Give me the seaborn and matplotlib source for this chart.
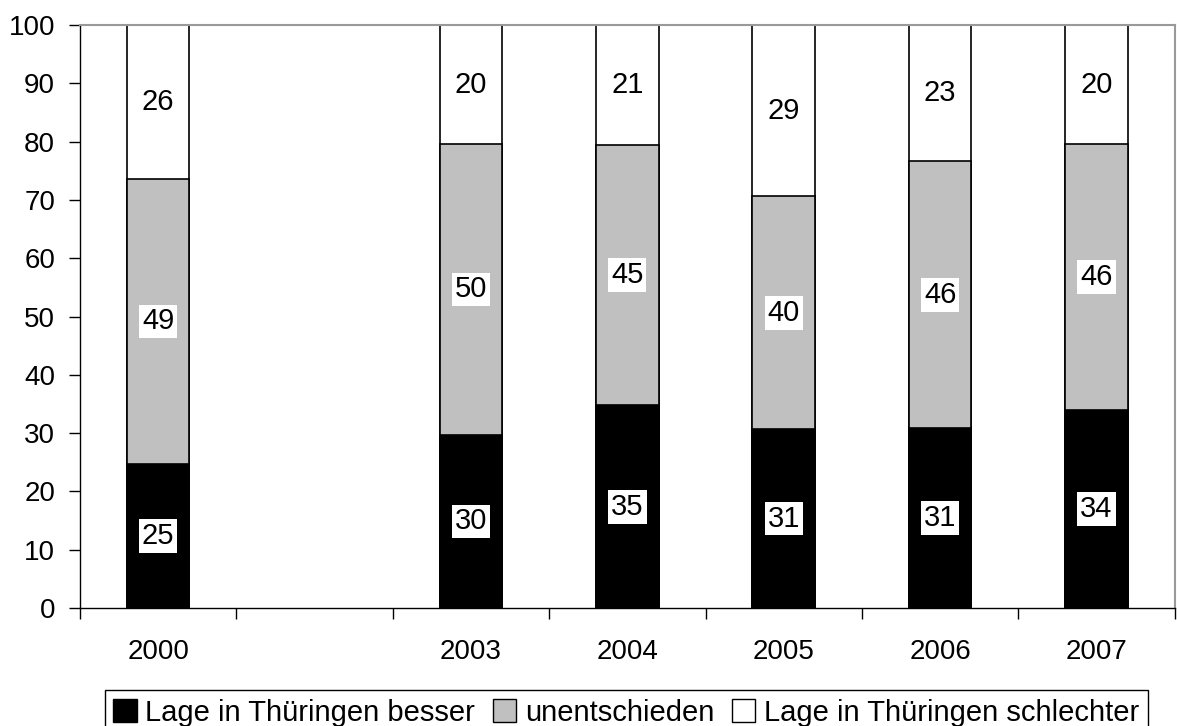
import numpy as np
import pandas as pd
import matplotlib
matplotlib.use("Agg")
import matplotlib.pyplot as plt
import seaborn as sns
from matplotlib.patches import Patch

# Daten (Anteile in %)
jahre = ["2000", "2003", "2004", "2005", "2006", "2007"]
slots = ["2000", "2001", "2003", "2004", "2005", "2006", "2007"]  # 2001 ohne Daten
besser = [24.7, 29.7, 34.8, 30.7, 30.8, 34.0]
unentschieden = [48.9, 49.9, 44.6, 39.9, 45.8, 45.6]
schlechter = [26.4, 20.4, 20.6, 29.4, 23.4, 20.4]

serien = ["Lage in Thüringen besser", "unentschieden", "Lage in Thüringen schlechter"]
farben = ["#000000", "#C0C0C0", "#FFFFFF"]

sns.set_style("white")
plt.rcParams["font.family"] = ["Liberation Sans", "DejaVu Sans"]
plt.rcParams["text.color"] = "black"
plt.rcParams["xtick.color"] = "black"
plt.rcParams["ytick.color"] = "black"

df = pd.DataFrame({"jahr": jahre, "besser": besser,
                   "unentschieden": unentschieden, "schlechter": schlechter})
df["s1"] = df["besser"]
df["s2"] = df["besser"] + df["unentschieden"]
df["s3"] = df["s2"] + df["schlechter"]

fig = plt.figure(figsize=(11.77, 7.26), dpi=100)
ax = fig.add_axes([0.068, 0.1625, 0.93, 0.803])

# gestapelt: von oben nach unten zeichnen
for col, farbe in zip(["s3", "s2", "s1"], farben[::-1]):
    sns.barplot(data=df, x="jahr", y=col, order=slots, color=farbe,
                width=0.4, edgecolor="black", linewidth=1.2, saturation=1,
                ax=ax, errorbar=None)

# Beschriftungen
for i, j in enumerate(jahre):
    xpos = slots.index(j)
    unten = 0
    for val in (besser[i], unentschieden[i], schlechter[i]):
        ax.text(xpos, unten + val / 2, f"{round(val)}", ha="center", va="center",
                fontsize=21, color="black",
                bbox=dict(facecolor="white", edgecolor="none", pad=2))
        unten += val

ax.set_ylim(0, 100)
ax.set_xlim(-0.5, len(slots) - 0.5)
ax.set_yticks(np.arange(0, 101, 10))
ax.tick_params(axis="y", labelsize=20, length=8, width=1, direction="out", left=True,
               pad=10, labelcolor="black")
ax.set_xticks(range(len(slots)))
ax.set_xticklabels([s if s in jahre else "" for s in slots])
ax.set_xticks(np.arange(-0.5, len(slots)), minor=True)
ax.tick_params(axis="x", which="major", length=0, labelsize=20, pad=22, labelcolor="black")
ax.tick_params(axis="x", which="minor", length=8, width=1, direction="out", bottom=True)
ax.set_xlabel("")
ax.set_ylabel("")

for s in ["left", "bottom"]:
    ax.spines[s].set_color("black")
    ax.spines[s].set_linewidth(1)
for s in ["top", "right"]:
    ax.spines[s].set_color("#999999")
    ax.spines[s].set_linewidth(1.5)

handles = [Patch(facecolor=f, edgecolor="black", linewidth=1) for f in farben]
leg = fig.legend(handles, serien, ncol=3, loc="upper center",
                 bbox_to_anchor=(0.532, 0.0496), fontsize=21, frameon=True,
                 fancybox=False, edgecolor="black", framealpha=1,
                 handlelength=0.8, handleheight=0.8, handletextpad=0.3,
                 columnspacing=0.6, borderpad=0.3, borderaxespad=0)
leg.get_frame().set_linewidth(1)

fig.savefig("out.png", dpi=100)
